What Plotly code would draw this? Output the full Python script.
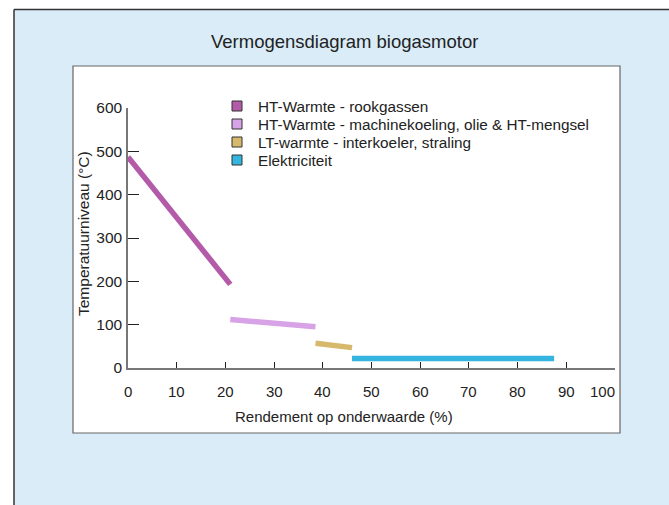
import plotly.graph_objects as go

# Efficiency (% of lower heating value) and temperature level (°C) per energy stream
series_names = [
    "HT-Warmte - rookgassen",
    "HT-Warmte - machinekoeling, olie & HT-mengsel",
    "LT-warmte - interkoeler, straling",
    "Elektriciteit",
]
rendement = [
    [0, 21],
    [21, 38.5],
    [38.5, 46],
    [46, 87.5],
]
temperatuur = [
    [487, 193],
    [112, 95],
    [57, 47],
    [22, 22],
]
line_colors = ["#b35ba8", "#d8a2e6", "#d6b96c", "#33b5df"]

x_ticks = [0, 10, 20, 30, 40, 50, 60, 70, 80, 90, 100]
y_ticks = [0, 100, 200, 300, 400, 500, 600]

W, H = 669, 505
PL, PR, PT, PB = 128, 615, 108, 368  # plot area in pixels


def px(x):
    return (x - PL) / (PR - PL)


def py(y):
    return (PB - y) / (PB - PT)


FONT = "Liberation Sans, Arial, sans-serif"
TXT = "#222222"

fig = go.Figure()

for xs, ys, col in zip(rendement, temperatuur, line_colors):
    fig.add_trace(go.Scatter(
        x=xs, y=ys, mode="lines", line=dict(color=col, width=5.5),
        showlegend=False, cliponaxis=False, hoverinfo="skip",
    ))

shapes = [
    # light blue panel
    dict(type="rect", xref="paper", yref="paper", layer="below",
         x0=px(14), x1=px(W + 5), y0=py(9.5), y1=py(H + 5),
         fillcolor="#d9ecf8", line=dict(width=0)),
    # panel border top and left
    dict(type="line", xref="paper", yref="paper", layer="below",
         x0=px(14), x1=px(W + 5), y0=py(9.5), y1=py(9.5),
         line=dict(color="#333333", width=1.5)),
    dict(type="line", xref="paper", yref="paper", layer="below",
         x0=px(14), x1=px(14), y0=py(9.5), y1=py(H + 5),
         line=dict(color="#333333", width=1.5)),
    # white chart box
    dict(type="rect", xref="paper", yref="paper", layer="below",
         x0=px(73), x1=px(620), y0=py(66), y1=py(433),
         fillcolor="white", line=dict(color="#666666", width=1.2)),
]

annotations = [
    dict(text="Vermogensdiagram biogasmotor", xref="paper", yref="paper",
         x=px(344), y=py(41), showarrow=False, xanchor="center", yanchor="middle",
         font=dict(family=FONT, size=18.5, color=TXT)),
    dict(text="Rendement op onderwaarde (%)", xref="paper", yref="paper",
         x=px(344), y=py(416), showarrow=False, xanchor="center", yanchor="middle",
         font=dict(family=FONT, size=15, color=TXT)),
    dict(text="Temperatuurniveau (°C)", xref="paper", yref="paper",
         x=px(83), y=py(234), showarrow=False, textangle=-90,
         xanchor="center", yanchor="middle",
         font=dict(family=FONT, size=15.5, color=TXT)),
]

# x tick labels; the last one sits flush against the axis end
for i, v in enumerate(x_ticks):
    last = i == len(x_ticks) - 1
    annotations.append(dict(
        text=str(v), xref="x", yref="paper", x=v, y=py(391),
        showarrow=False, xanchor="right" if last else "center", yanchor="middle",
        xshift=2 if last else 0,
        font=dict(family=FONT, size=15, color=TXT)))

# legend: square swatches with labels
LEG_X, LEG_Y0, LEG_DY = 237, 106, 18
for i, (name, col) in enumerate(zip(series_names, line_colors)):
    cy = LEG_Y0 + i * LEG_DY
    shapes.append(dict(
        type="rect", xref="paper", yref="paper",
        x0=px(LEG_X - 5), x1=px(LEG_X + 5), y0=py(cy - 5), y1=py(cy + 5),
        fillcolor=col, line=dict(color="#333333", width=1)))
    annotations.append(dict(
        text=name, xref="paper", yref="paper", x=px(256), y=py(cy),
        showarrow=False, xanchor="left", yanchor="middle",
        font=dict(family=FONT, size=15.3, color=TXT)))

fig.update_layout(
    width=W, height=H,
    margin=dict(l=PL, r=W - PR, t=PT, b=H - PB, pad=0),
    paper_bgcolor="white", plot_bgcolor="rgba(0,0,0,0)",
    shapes=shapes, annotations=annotations, showlegend=False,
    font=dict(family=FONT, size=15, color=TXT),
    xaxis=dict(range=[0, 100], tickvals=x_ticks, ticks="inside", ticklen=6,
               tickcolor="#222222", tickwidth=1.2, showline=True,
               linecolor="#777777", linewidth=1.5, showgrid=False, zeroline=False,
               showticklabels=False, fixedrange=True),
    yaxis=dict(range=[0, 600], tickvals=y_ticks, ticks="inside", ticklen=11,
               tickcolor="#222222", tickwidth=1.2, showline=True,
               linecolor="#777777", linewidth=1.5, showgrid=False, zeroline=False,
               ticklabelstandoff=1, tickfont=dict(family=FONT, size=15.5, color=TXT),
               fixedrange=True),
)

fig.write_html("out.html")
